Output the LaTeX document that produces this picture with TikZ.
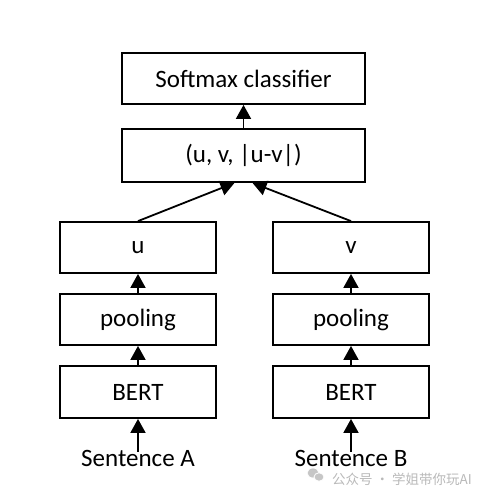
\documentclass[tikz,border=0pt]{standalone}
\usepackage{fontspec}
\setmainfont{Carlito}
\newfontfamily\cjk{Noto Sans CJK SC}
\usetikzlibrary{arrows.meta, positioning}

\begin{document}
\begin{tikzpicture}[
    x=1pt, y=-1pt, % pixel-like units, y downwards
    block/.style={draw, line width=1.8pt, minimum height=51pt, inner sep=0pt,
        font=\fontsize{25}{28}\selectfont},
    wide_block/.style={block, minimum width=243pt},
    narrow_block/.style={block, minimum width=156pt},
    label_text/.style={font=\fontsize{25}{28}\selectfont, inner sep=0pt},
    flow/.style={-{Triangle[length=14pt, width=15pt]}, line width=1.8pt},
    bubble/.style={fill=gray!45, draw=white, line width=0.8pt}
]

% Fix the page size
\useasboundingbox (0,0) rectangle (486,495);

% Top blocks
\node[wide_block] (softmax) at (243.5,78.5) {Softmax classifier};
\node[wide_block, minimum height=53pt] (concat) at (243.5,155.5) {(u, v, |u-v|)};

% Left branch
\node[narrow_block] (u) at (138,247.5) {u};
\node[narrow_block] (poolA) at (138,319.5) {pooling};
\node[narrow_block, minimum height=52pt] (bertA) at (138,392) {BERT};
\node[label_text] (sentA) at (138,458) {Sentence A};

% Right branch
\node[narrow_block] (v) at (351,247.5) {v};
\node[narrow_block] (poolB) at (351,319.5) {pooling};
\node[narrow_block, minimum height=52pt] (bertB) at (351,392) {BERT};
\node[label_text] (sentB) at (351,458) {Sentence B};

% Connectors
\draw[flow] (concat.north) -- (softmax.south);
\draw[flow] (u.north) -- ([xshift=-9pt]concat.south);
\draw[flow] (v.north) -- ([xshift=9pt]concat.south);
\draw[flow] (poolA.north) -- (u.south);
\draw[flow] (poolB.north) -- (v.south);
\draw[flow] (bertA.north) -- (poolA.south);
\draw[flow] (bertB.north) -- (poolB.south);
\draw[flow] ([yshift=-2pt]sentA.north) -- (bertA.south);
\draw[flow] ([yshift=-2pt]sentB.north) -- (bertB.south);

% Watermark
\fill[bubble] (313,473) ellipse (6pt and 5pt);
\draw[bubble] (319,477) ellipse (5pt and 4.2pt);
\node[text=gray!55, font=\cjk\fontsize{13.5}{16}\selectfont, inner sep=0pt] (mark) at (402,479) {公众号 · 学姐带你玩AI};

\end{tikzpicture}
\end{document}
